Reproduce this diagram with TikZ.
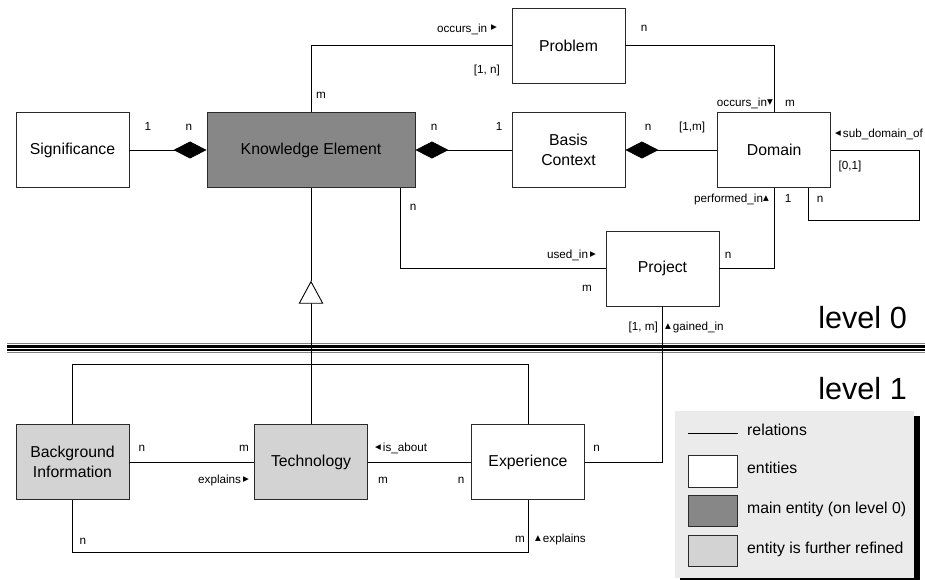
\documentclass[tikz,border=0pt]{standalone}
\usepackage{fontspec}
\setmainfont{Liberation Sans}
\newfontfamily\symf{DejaVu Sans}
\usetikzlibrary{arrows.meta,calc}
\newcommand\mkR{\,\raisebox{2.2pt}{\symf\fontsize{7.5}{7.5}\selectfont ▶}}
\newcommand\mkL{\raisebox{2.2pt}{\symf\fontsize{7.5}{7.5}\selectfont ◀}\,}
\newcommand\mkU{\raisebox{2.4pt}{\symf\fontsize{7.5}{7.5}\selectfont ▲}}
\newcommand\mkD{\raisebox{2.4pt}{\symf\fontsize{7.5}{7.5}\selectfont ▼}}
\definecolor{kegray}{HTML}{878787}
\definecolor{refgray}{HTML}{D3D3D3}
\definecolor{leggray}{HTML}{EBEBEB}
\definecolor{edgec}{HTML}{2A2A2A}
\begin{document}
\begin{tikzpicture}[x=1pt,y=-1pt,
  ent/.style={draw=edgec,line width=0.9pt,fill=white,minimum width=113pt,minimum height=75pt,
    inner sep=0pt,align=center,font=\fontsize{15.8}{20}\selectfont},
  rel/.style={draw=black,line width=0.9pt},
  lab/.style={inner sep=0pt,font=\fontsize{11.7}{13}\selectfont},
  lvl/.style={inner sep=0pt,font=\fontsize{30.6}{34}\selectfont},
  legtxt/.style={inner sep=0pt,anchor=mid west,font=\fontsize{15.8}{18}\selectfont},
  legbox/.style={draw=edgec,line width=0.9pt,minimum width=49.7pt,minimum height=31.5pt,inner sep=0pt},
  dia/.style={-{Diamond[length=33pt,width=17pt,fill=black]}}
]
\useasboundingbox (0,0) rectangle (925,580);

% entities
\node[ent] (sig) at (72.5,150) {Significance};
\node[ent,fill=kegray,minimum width=208pt] (ke) at (311,150) {Knowledge Element};
\node[ent] (prob) at (568.5,45.8) {Problem};
\node[ent] (basis) at (568.5,150) {Basis\\Context};
\node[ent] (dom) at (774.2,150) {Domain};
\node[ent] (proj) at (662.5,268.5) {Project};
\node[ent,fill=refgray] (bi) at (72.5,462.2) {Background\\Information};
\node[ent,fill=refgray] (tech) at (311,462.2) {Technology};
\node[ent] (exp) at (528,462.2) {Experience};

% level separator
\draw[gray,line width=0.7pt] (7,343.5) -- (925,343.5);
\draw[black,line width=3.2pt] (7,346.6) -- (925,346.6);
\draw[black,line width=1.8pt] (7,350.3) -- (925,350.3);
\draw[gray,line width=0.7pt] (7,352.4) -- (925,352.4);

% relations level 0
\draw[rel,dia] (sig.east) -- (ke.west);
\draw[rel,dia] (basis.west) -- (ke.east);
\draw[rel,dia] (dom.west) -- (basis.east);
\draw[rel] (ke.north) |- (prob.west);
\draw[rel] (prob.east) -| (dom.north);
\coordinate (kedown) at ($(ke.south east)+(-15,0)$);
\draw[rel] (kedown) |- (proj.west);
\draw[rel] (dom.south) |- (proj.east);
\coordinate (loopA) at ($(dom.east)+(88.5,0)$);
\coordinate (loopB) at ($(dom.south)+(34,32)$);
\coordinate (loopC) at ($(dom.south)+(34,0)$);
\draw[rel] (dom.east) -- (loopA) |- (loopB) -- (loopC);

% inheritance
\coordinate (inh) at (311,280.7);
\draw[rel] (ke.south) -- (inh);
\draw[rel,-{Triangle[length=23pt,width=24.6pt,fill=white]}] (tech.north) -- (inh);

% relations level 1
\draw[rel] (bi.east) -- (tech.west);
\draw[rel] (tech.east) -- (exp.west);
\coordinate (topY) at ($(bi.north)+(0,-60.3)$);
\draw[rel] (bi.north) -- (topY) -| (exp.north);
\coordinate (botY) at ($(bi.south)+(0,52.7)$);
\draw[rel] (bi.south) -- (botY) -| (exp.south);
\draw[rel] (exp.east) -| (proj.south);

% labels level 0
\node[lab,anchor=mid east] (l1) at (497,29.5) {occurs\_in\,\mkR};
\node[lab,anchor=mid east] (l2) at (500,71) {[1, n]};
\node[lab,anchor=mid] (l3) at (321,96) {m};
\node[lab,anchor=mid] (l4) at (644,29) {n};
\node[lab,anchor=mid east] (l5) at (773,104) {occurs\_in\mkD};
\node[lab,anchor=mid] (l6) at (790,104) {m};
\node[lab,anchor=mid] (l7) at (148,128) {1};
\node[lab,anchor=mid] (l8) at (189,128) {n};
\node[lab,anchor=mid] (l9) at (434,128) {n};
\node[lab,anchor=mid] (l10) at (499,128) {1};
\node[lab,anchor=mid] (l11) at (648,128) {n};
\node[lab,anchor=mid] (l12) at (692,128) {[1,m]};
\node[lab,anchor=mid west] (l13) at (835,135) {\mkL sub\_domain\_of};
\node[lab,anchor=mid] (l14) at (850,167) {[0,1]};
\node[lab,anchor=mid east] (l15) at (769,200) {performed\_in\mkU};
\node[lab,anchor=mid] (l16) at (788,200) {1};
\node[lab,anchor=mid] (l17) at (820,200) {n};
\node[lab,anchor=mid] (l18) at (413,208) {n};
\node[lab,anchor=mid east] (l19) at (596,256) {used\_in\mkR};
\node[lab,anchor=mid] (l20) at (587,289) {m};
\node[lab,anchor=mid] (l21) at (728,256) {n};
\node[lab,anchor=mid east] (l22) at (658,328) {[1, m]};
\node[lab,anchor=mid west] (l23) at (665,328) {\mkU\,gained\_in};

% labels level 1
\node[lab,anchor=mid] (m1) at (142,449) {n};
\node[lab,anchor=mid] (m2) at (244,449) {m};
\node[lab,anchor=mid east] (m3) at (249,481) {explains\mkR};
\node[lab,anchor=mid west] (m4) at (375,449) {\mkL is\_about};
\node[lab,anchor=mid] (m5) at (383,481) {m};
\node[lab,anchor=mid] (m6) at (461,481) {n};
\node[lab,anchor=mid] (m7) at (596.7,449) {n};
\node[lab,anchor=mid] (m8) at (83,541.7) {n};
\node[lab,anchor=mid] (m9) at (520,540) {m};
\node[lab,anchor=mid west] (m10) at (535,540) {\mkU\,explains};

% level titles
\node[lvl,anchor=base east] (lv0) at (907,328) {level 0};
\node[lvl,anchor=base east] (lv1) at (907,399) {level 1};

% legend
\fill[black] (680,416) rectangle (920,584);
\fill[leggray] (675,411) rectangle (914,578);
\coordinate (lrA) at (688,433);
\coordinate (lrB) at (737.5,433);
\draw[rel] (lrA) -- (lrB);
\node[legtxt] (t1) at (747,433) {relations};
\node[legbox,fill=white] (b2) at (712.8,471.2) {};
\node[legtxt] (t2) at (747,471) {entities};
\node[legbox,fill=kegray] (b3) at (712.8,511) {};
\node[legtxt] (t3) at (747,511) {main entity (on level 0)};
\node[legbox,fill=refgray] (b4) at (712.8,551) {};
\node[legtxt] (t4) at (747,551) {entity is further refined};
\end{tikzpicture}
\end{document}
